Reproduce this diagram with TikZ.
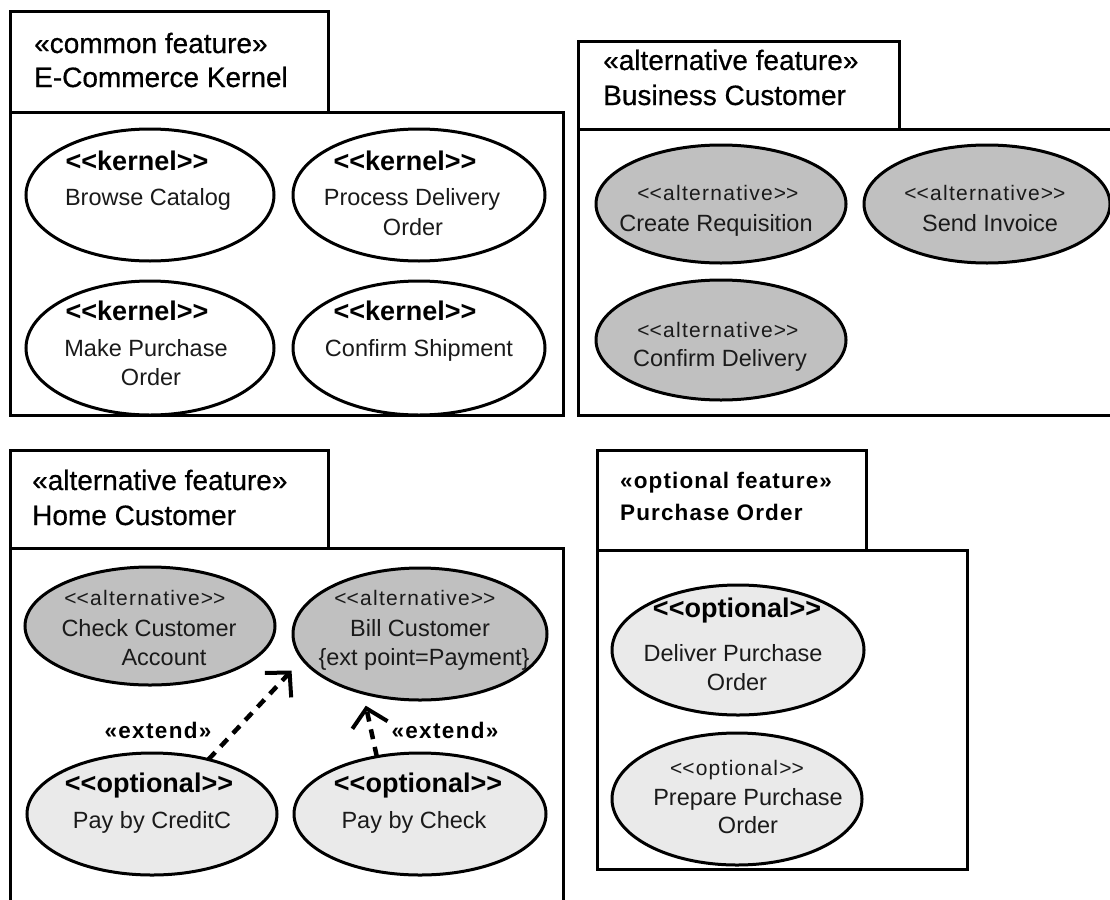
\documentclass[tikz,border=0pt]{standalone}
\usepackage{fontspec}
\setmainfont{Liberation Sans}
\newfontfamily\spaced{Liberation Sans}[LetterSpace=6]
\newfontfamily\spacedtab{Liberation Sans}[LetterSpace=5]
\newfontfamily\tabfont{Liberation Sans}[FakeBold=0.6]
\usetikzlibrary{shapes.geometric,arrows.meta}
\definecolor{altgray}{HTML}{C0C0C0}
\definecolor{optgray}{HTML}{EAEAEA}
\definecolor{ink}{HTML}{1A1A1A}
% angle brackets kept apart so the TeX ligature mapping leaves them alone
\newcommand\dlt{<\kern0pt<}
\newcommand\dgt{>\kern0pt>}
\tikzset{
  pkg/.style={draw, line width=3pt, fill=white},
  uc/.style={ellipse, draw, line width=3pt, inner sep=0pt, outer sep=0pt},
  uckern/.style={uc, fill=white},
  ucalt/.style={uc, fill=altgray},
  ucopt/.style={uc, fill=optgray},
  lbl/.style={anchor=base, inner sep=0pt, outer sep=0pt},
  tabtxt/.style={anchor=base west, inner sep=0pt, font=\tabfont\fontsize{28}{32}\selectfont},
  tabbold/.style={anchor=base west, inner sep=0pt, font=\spacedtab\bfseries\fontsize{22.5}{26}\selectfont},
  ucname/.style={lbl, text=ink, font=\fontsize{23.5}{28}\selectfont},
  stbold/.style={lbl, font=\bfseries\fontsize{27}{30}\selectfont},
  stplain/.style={lbl, text=ink, font=\spaced\fontsize{21}{25}\selectfont},
  extlbl/.style={lbl, font=\spaced\bfseries\fontsize{22.5}{26}\selectfont},
  extarrow/.style={line width=4.5pt, dash pattern=on 10pt off 8pt,
    -{Straight Barb[length=17pt,width=36pt,line width=4pt]}},
}
\begin{document}
\begin{tikzpicture}[x=1pt,y=-1pt]
\useasboundingbox (0,0) rectangle (1110,899);
\clip (0,0) rectangle (1110,899);

% ---------------- E-Commerce Kernel ----------------
\draw[pkg] (10,112) rectangle (563,415);
\draw[pkg] (10,12) rectangle (328,112);
\node[tabtxt] (kerStereo) at (34,53) {«common feature»};
\node[tabtxt] (kerName) at (34,87) {E-Commerce Kernel};

\node[uckern, minimum width=248pt, minimum height=132pt] (bc) at (150,195) {};
\node[uckern, minimum width=252pt, minimum height=132pt] (pdo) at (419,195) {};
\node[uckern, minimum width=248pt, minimum height=134pt] (mpo) at (150,348) {};
\node[uckern, minimum width=252pt, minimum height=134pt] (cs) at (419,348) {};

\node[stbold] (bcS) at (137,170) {\dlt kernel\dgt};
\node[ucname] (bcA) at (148,205.5) {Browse Catalog};
\node[stbold] (pdoS) at (405,170) {\dlt kernel\dgt};
\node[ucname] (pdoA) at (412,205.5) {Process Delivery};
\node[ucname] (pdoB) at (413,235.5) {Order};
\node[stbold] (mpoS) at (137,320) {\dlt kernel\dgt};
\node[ucname] (mpoA) at (146,356.5) {Make Purchase};
\node[ucname] (mpoB) at (151,385.5) {Order};
\node[stbold] (csS) at (405,320) {\dlt kernel\dgt};
\node[ucname] (csA) at (419,356.5) {Confirm Shipment};

% ---------------- Business Customer ----------------
\draw[pkg] (578,129) rectangle (1130,415);
\draw[pkg] (578,42) rectangle (899,129);
\node[tabtxt] (busStereo) at (603,70) {«alternative feature»};
\node[tabtxt] (busName) at (603,105) {Business Customer};

\node[ucalt, minimum width=250pt, minimum height=118pt] (cr) at (721,204) {};
\node[ucalt, minimum width=246pt, minimum height=118pt] (si) at (987,204) {};
\node[ucalt, minimum width=250pt, minimum height=120pt] (cd) at (721,340) {};

\node[stplain] (crS) at (718,200.5) {\dlt alternative\dgt};
\node[ucname] (crA) at (716,231.5) {Create Requisition};
\node[stplain] (siS) at (985,200.5) {\dlt alternative\dgt};
\node[ucname] (siA) at (990,231.5) {Send Invoice};
\node[stplain] (cdS) at (718,337.5) {\dlt alternative\dgt};
\node[ucname] (cdA) at (720,366.5) {Confirm Delivery};

% ---------------- Home Customer ----------------
\draw[pkg] (10,548) rectangle (563,920);
\draw[pkg] (10,450) rectangle (328,548);
\node[tabtxt] (homStereo) at (32,490) {«alternative feature»};
\node[tabtxt] (homName) at (32,525) {Home Customer};

\node[ucalt, minimum width=250pt, minimum height=118pt] (cca) at (150,626) {};
\node[ucalt, minimum width=254pt, minimum height=132pt] (bcu) at (420,634) {};
\node[ucopt, minimum width=250pt, minimum height=122pt] (pcc) at (152,814) {};
\node[ucopt, minimum width=252pt, minimum height=122pt] (pch) at (420,814) {};

\node[stplain] (ccaS) at (145,605.5) {\dlt alternative\dgt};
\node[ucname] (ccaA) at (149,636.5) {Check Customer};
\node[ucname] (ccaB) at (164,665.5) {Account};
\node[stplain] (bcuS) at (415,605.5) {\dlt alternative\dgt};
\node[ucname] (bcuA) at (420,636.5) {Bill Customer};
\node[ucname] (bcuB) at (424,665.5) {\{ext point=Payment\}};
\node[stbold] (pccS) at (149,792) {\dlt optional\dgt};
\node[ucname] (pccA) at (152,828.5) {Pay by CreditC};
\node[stbold] (pchS) at (418,792) {\dlt optional\dgt};
\node[ucname] (pchA) at (414,828.5) {Pay by Check};

\draw[extarrow, shorten >=16pt] (pcc.44) -- (bcu.192);
\draw[extarrow, shorten >=13pt] (pch.127) -- (bcu.226);
\node[extlbl] (ext1) at (158,738) {«extend»};
\node[extlbl] (ext2) at (445,738) {«extend»};

% ---------------- Purchase Order ----------------
\draw[pkg] (597,550) rectangle (967,869);
\draw[pkg] (597,450) rectangle (866,550);
\node[tabbold] (poStereo) at (620,488) {«optional feature»};
\node[tabbold] (poName) at (620,520) {Purchase Order};

\node[ucopt, minimum width=252pt, minimum height=130pt] (dpo) at (738,650) {};
\node[ucopt, minimum width=250pt, minimum height=132pt] (ppo) at (737,799) {};

\node[stbold] (dpoS) at (737,617) {\dlt optional\dgt};
\node[ucname] (dpoA) at (733,661.5) {Deliver Purchase};
\node[ucname] (dpoB) at (737,690.5) {Order};
\node[stplain] (ppoS) at (737,775.5) {\dlt optional\dgt};
\node[ucname] (ppoA) at (748,805.5) {Prepare Purchase};
\node[ucname] (ppoB) at (748,833.5) {Order};
\end{tikzpicture}
\end{document}
